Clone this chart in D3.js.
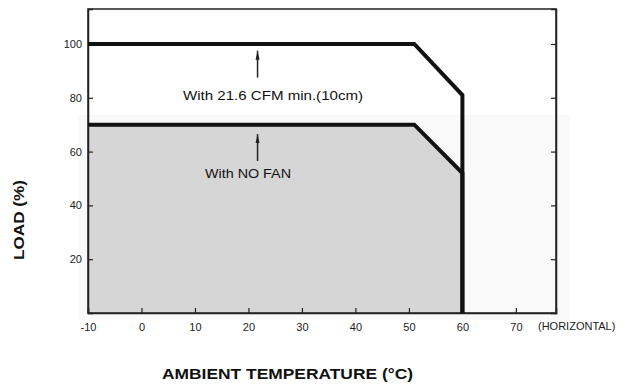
<!DOCTYPE html>
<html><head><meta charset="utf-8">
<script src="https://cdn.jsdelivr.net/npm/d3@7"></script>
<style>html,body{margin:0;padding:0;background:#fff;}svg{display:block;}</style>
</head><body>
<svg id="c" width="629" height="384"></svg>
<script>
const tempTicks = [-10, 0, 10, 20, 30, 40, 50, 60, 70];
const loadTicks = [20, 40, 60, 80, 100];
const fanTemp = [-10, 51, 60, 60];
const fanLoad = [100, 100, 81, 0];
const noFanTemp = [-10, 51, 60, 60];
const noFanLoad = [70, 70, 52, 0];
const fanLabel = "With 21.6 CFM min.(10cm)";
const noFanLabel = "With NO FAN";

const svg = d3.select("#c");
const x = d3.scaleLinear().domain([-10, 77.5]).range([88, 556]);
const y = d3.scaleLinear().domain([0, 113]).range([313, 9]);
const font = "Arial, 'Liberation Sans', sans-serif";

// faint scan background
svg.append("rect").attr("x", 78).attr("y", 115).attr("width", 492).attr("height", 205).attr("fill", "#f9f9f9");

// shaded area under no-fan curve
const noFanPts = noFanTemp.map((t, i) => [t, noFanLoad[i]]);
const area = d3.area().x(d => x(d[0])).y0(y(0)).y1(d => y(d[1]));
svg.append("path").datum(noFanPts).attr("d", area).attr("fill", "#d6d6d6");

// frame
svg.append("rect").attr("x", x(-10)).attr("y", y(113)).attr("width", x(77.5) - x(-10)).attr("height", y(0) - y(113))
  .attr("fill", "none").attr("stroke", "#222").attr("stroke-width", 1.5);

// axes
const yAxisL = d3.axisLeft(y).tickValues(loadTicks).tickSize(-5).tickPadding(8).tickFormat(d => String(d));
const gL = svg.append("g").attr("transform", `translate(${x(-10)},0)`).call(yAxisL);
const yAxisR = d3.axisRight(y).tickValues(loadTicks).tickSize(-5).tickFormat("");
const gR = svg.append("g").attr("transform", `translate(${x(77.5)},0)`).call(yAxisR);
const xAxis = d3.axisBottom(x).tickValues(tempTicks).tickSize(-5).tickPadding(10).tickFormat(d => String(d));
const gB = svg.append("g").attr("transform", `translate(0,${y(0)})`).call(xAxis);
[gL, gR, gB].forEach(g => {
  g.select(".domain").attr("stroke", "#222").attr("stroke-width", 1.5);
  g.selectAll(".tick line").attr("stroke", "#222").attr("stroke-width", 1.2);
  g.selectAll("text").attr("font-family", font).attr("font-size", 11).attr("fill", "#222");
});
gL.selectAll("text").attr("dx", 2);

svg.append("text").attr("x", 538).attr("y", y(0) + 17).attr("font-family", font).attr("font-size", 11)
  .attr("fill", "#222").text("(HORIZONTAL)");

// curves
const line = d3.line().x(d => x(d[0])).y(d => y(d[1]));
const fanPts = fanTemp.map((t, i) => [t, fanLoad[i]]);
svg.append("path").datum(fanPts).attr("d", line).attr("fill", "none").attr("stroke", "#111").attr("stroke-width", 4).attr("stroke-linejoin", "miter");
svg.append("path").datum(noFanPts).attr("d", line).attr("fill", "none").attr("stroke", "#111").attr("stroke-width", 4).attr("stroke-linejoin", "miter");

// arrows
function arrow(xp, y1, y2) {
  svg.append("line").attr("x1", xp).attr("x2", xp).attr("y1", y1).attr("y2", y2).attr("stroke", "#222").attr("stroke-width", 1.5);
  svg.append("path").attr("d", `M${xp - 2},${y1 + 9} L${xp},${y1} L${xp + 2},${y1 + 9} Z`).attr("fill", "#222");
}
const ax = x(21.7);
arrow(ax, y(97.5), y(87.5));
arrow(ax, y(66.5), y(56.5));

svg.append("text").attr("x", 183).attr("y", 100).attr("font-family", font).attr("font-size", 13)
  .attr("textLength", 180).attr("lengthAdjust", "spacingAndGlyphs").attr("fill", "#111").text(fanLabel);
svg.append("text").attr("x", 205).attr("y", 178).attr("font-family", font).attr("font-size", 13)
  .attr("textLength", 86).attr("lengthAdjust", "spacingAndGlyphs").attr("fill", "#111").text(noFanLabel);

// axis titles
svg.append("text").attr("transform", "translate(24,260) rotate(-90)")
  .attr("font-family", font).attr("font-size", 14).attr("font-weight", "bold")
  .attr("textLength", 80).attr("lengthAdjust", "spacingAndGlyphs").attr("fill", "#111").text("LOAD (%)");
svg.append("text").attr("x", 162).attr("y", 379).attr("font-family", font).attr("font-size", 14).attr("font-weight", "bold")
  .attr("textLength", 251).attr("lengthAdjust", "spacingAndGlyphs").attr("fill", "#111").text("AMBIENT TEMPERATURE (°C)");
</script>
</body></html>
